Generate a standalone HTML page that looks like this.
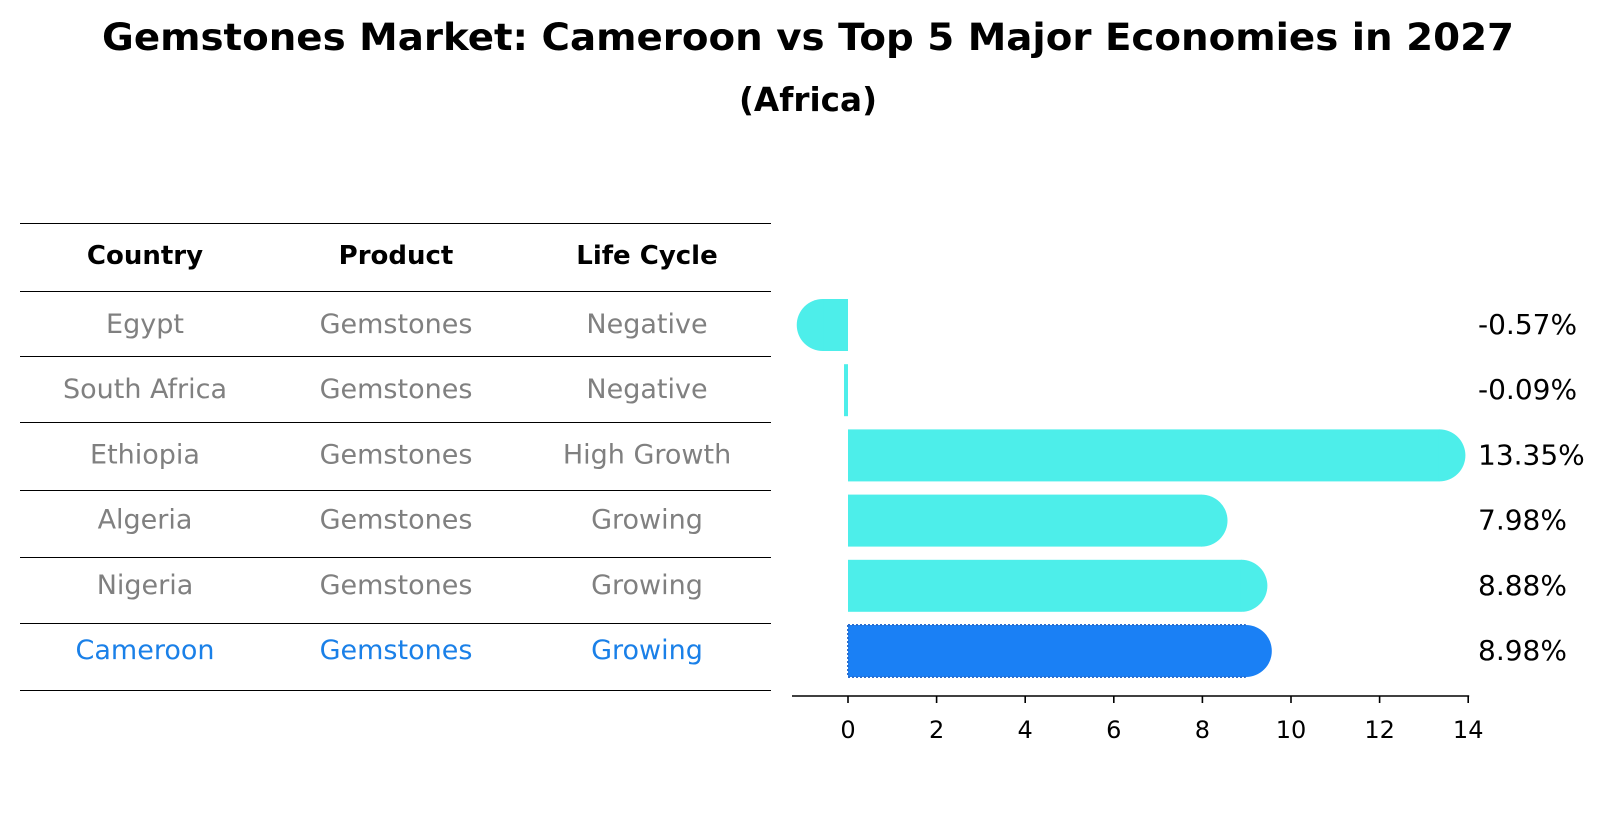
<!DOCTYPE html>
<html><head><meta charset="utf-8"><style>body{margin:0;background:#fff}svg{display:block}text{font-family:"DejaVu Sans","Liberation Sans",sans-serif}</style></head>
<body>
<svg id="c" width="1604" height="823">
<text x="808" y="50" font-size="37" font-weight="bold" text-anchor="middle" textLength="1412" lengthAdjust="spacingAndGlyphs">Gemstones Market: Cameroon vs Top 5 Major Economies in 2027</text>
<text x="808" y="111" font-size="33" font-weight="bold" text-anchor="middle" textLength="138" lengthAdjust="spacingAndGlyphs">(Africa)</text>
<g id="tbl"></g>
<g id="bars"></g>
</svg>
<script>
const countries=["Egypt","South Africa","Ethiopia","Algeria","Nigeria","Cameroon"];
const products=["Gemstones","Gemstones","Gemstones","Gemstones","Gemstones","Gemstones"];
const cycles=["Negative","Negative","High Growth","Growing","Growing","Growing"];
const values=[-0.57,-0.09,13.35,7.98,8.88,8.98];
const labels=["-0.57%","-0.09%","13.35%","7.98%","8.88%","8.98%"];
const ticks=[0,2,4,6,8,10,12,14];
const NS="http://www.w3.org/2000/svg";
function el(t,a,p,txt){const e=document.createElementNS(NS,t);for(const k in a)e.setAttribute(k,a[k]);if(txt!==undefined)e.textContent=txt;p.appendChild(e);return e;}
const x=v=>848+v*44.3;
const yc=i=>325+i*65.2;
const tbl=document.getElementById('tbl'),bars=document.getElementById('bars');
const lineY=[223,291,356,422,490,557,623,690];
lineY.forEach(y=>{const l=el('line',{x1:20,x2:771,y1:y+0.5,y2:y+0.5,stroke:'#000','stroke-width':1,'shape-rendering':'crispEdges'},tbl);
});
const cx=[145,396,647];
["Country","Product","Life Cycle"].forEach((h,j)=>{const t=el('text',{x:cx[j],y:264,'font-size':26,'font-weight':'bold','text-anchor':'middle'},tbl,h);
});
countries.forEach((c,i)=>{const col=i==5?'#1a80e8':'#808080';const y=yc(i)+8;
[c,products[i],cycles[i]].forEach((s,j)=>{const t=el('text',{x:cx[j],y:y,'font-size':27,fill:col,'text-anchor':'middle'},tbl,s);
});});
const h=52,r=26;
values.forEach((v,i)=>{const y0=yc(i)-h/2;const col=i==5?'#1a80f5':'#4deeea';
const x0=Math.min(x(0),x(v)),w=Math.abs(x(v)-x(0));
const g=el('g',{},bars);
el('rect',{x:x0,y:y0,width:Math.max(w,1.5),height:h,fill:col},g);
if(Math.abs(v)>0.3){const cxp=x(v);const d=v>0?1:-1;
el('path',{d:`M${cxp-d*0.5},${y0} L${cxp},${y0} A${r},${r} 0 0 ${d>0?1:0} ${cxp},${y0+h} L${cxp-d*0.5},${y0+h} Z`,fill:col},g);}
if(i==5){el('line',{x1:x(0),x2:x(v),y1:y0,y2:y0,stroke:'#2a6fd0','stroke-width':2,'stroke-dasharray':'2,2'},g);
el('line',{x1:x(0),x2:x(v),y1:y0+h,y2:y0+h,stroke:'#2a6fd0','stroke-width':2,'stroke-dasharray':'2,2'},g);
el('line',{x1:x(0),x2:x(0),y1:y0,y2:y0+h,stroke:'#2a6fd0','stroke-width':2,'stroke-dasharray':'2,2'},g);}
const t=el('text',{x:1478,y:yc(i)+9,'font-size':28},bars,labels[i]);});
const ax=el('line',{x1:792,x2:x(14)+1,y1:696,y2:696,stroke:'#000','stroke-width':1.6},bars);
ticks.forEach(tv=>{const l=el('line',{x1:x(tv),x2:x(tv),y1:696,y2:703,stroke:'#000','stroke-width':1.6},bars);
const t=el('text',{x:x(tv),y:738,'font-size':24,'text-anchor':'middle'},bars,String(tv));});
</script>
</body></html>
